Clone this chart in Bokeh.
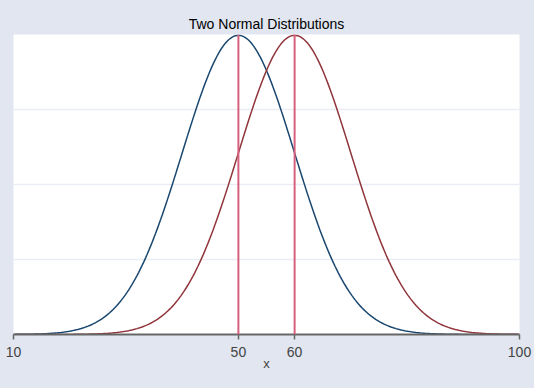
import numpy as np
from bokeh.plotting import figure
from bokeh.models import FixedTicker, Span, ColumnDataSource
from bokeh.embed import file_html
from bokeh.resources import INLINE

# Parameters of the two normal densities
title_text = "Two Normal Distributions"
x_min, x_max = 10, 100
mean_blue, sd_blue = 50, 10
mean_red, sd_red = 60, 10
xline_positions = [50, 60]
x_ticks = [10, 50, 60, 100]
y_grid = [0.01, 0.02, 0.03]
y_max = 0.04
n_points = 300

BG = "#E1E6F0"

xs = np.linspace(x_min, x_max, n_points)
def npdf(x, m, s):
    return np.exp(-0.5 * ((x - m) / s) ** 2) / (s * np.sqrt(2 * np.pi))

src = ColumnDataSource(dict(x=xs, blue=npdf(xs, mean_blue, sd_blue), red=npdf(xs, mean_red, sd_red)))

p = figure(width=534, height=388, output_backend="svg", toolbar_location=None,
           x_range=(x_min, x_max), y_range=(0, y_max),
           min_border_left=13, min_border_right=15, min_border_top=34, min_border_bottom=54)
p.background_fill_color = "white"
p.border_fill_color = BG
p.outline_line_color = None

p.title.text = title_text
p.title.align = "center"
p.title.text_font = "Liberation Sans"
p.title.text_font_size = "14px"
p.title.text_font_style = "normal"
p.title.text_color = "#000000"
p.title.standoff = 5

p.line("x", "blue", source=src, line_color="#1a476f", line_width=1.5)
p.line("x", "red", source=src, line_color="#90353b", line_width=1.5)

for xv in xline_positions:
    p.add_layout(Span(location=xv, dimension="height", line_color="#D7607F", line_width=2))

p.yaxis.visible = False
p.xgrid.visible = False
p.ygrid.ticker = FixedTicker(ticks=y_grid)
p.ygrid.grid_line_color = "#EAEEF4"
p.ygrid.grid_line_width = 1.5

ax = p.xaxis[0]
ax.ticker = FixedTicker(ticks=x_ticks)
ax.axis_label = "x"
ax.axis_label_text_font = "Liberation Sans"
ax.axis_label_text_font_size = "13px"
ax.axis_label_text_font_style = "normal"
ax.axis_label_standoff = -4
ax.major_label_text_font = "Liberation Sans"
ax.major_label_text_font_size = "14px"
ax.major_label_standoff = 7
ax.axis_line_color = "#666666"
ax.axis_line_width = 2
ax.major_tick_line_color = "#666666"
ax.major_tick_line_width = 1.5
ax.major_tick_in = 0
ax.major_tick_out = 5
ax.minor_tick_line_color = None

html = file_html(p, INLINE)
html = html.replace("</head>", "<style>html, body { background: %s; }</style></head>" % BG, 1)
open("out.html", "w").write(html)
